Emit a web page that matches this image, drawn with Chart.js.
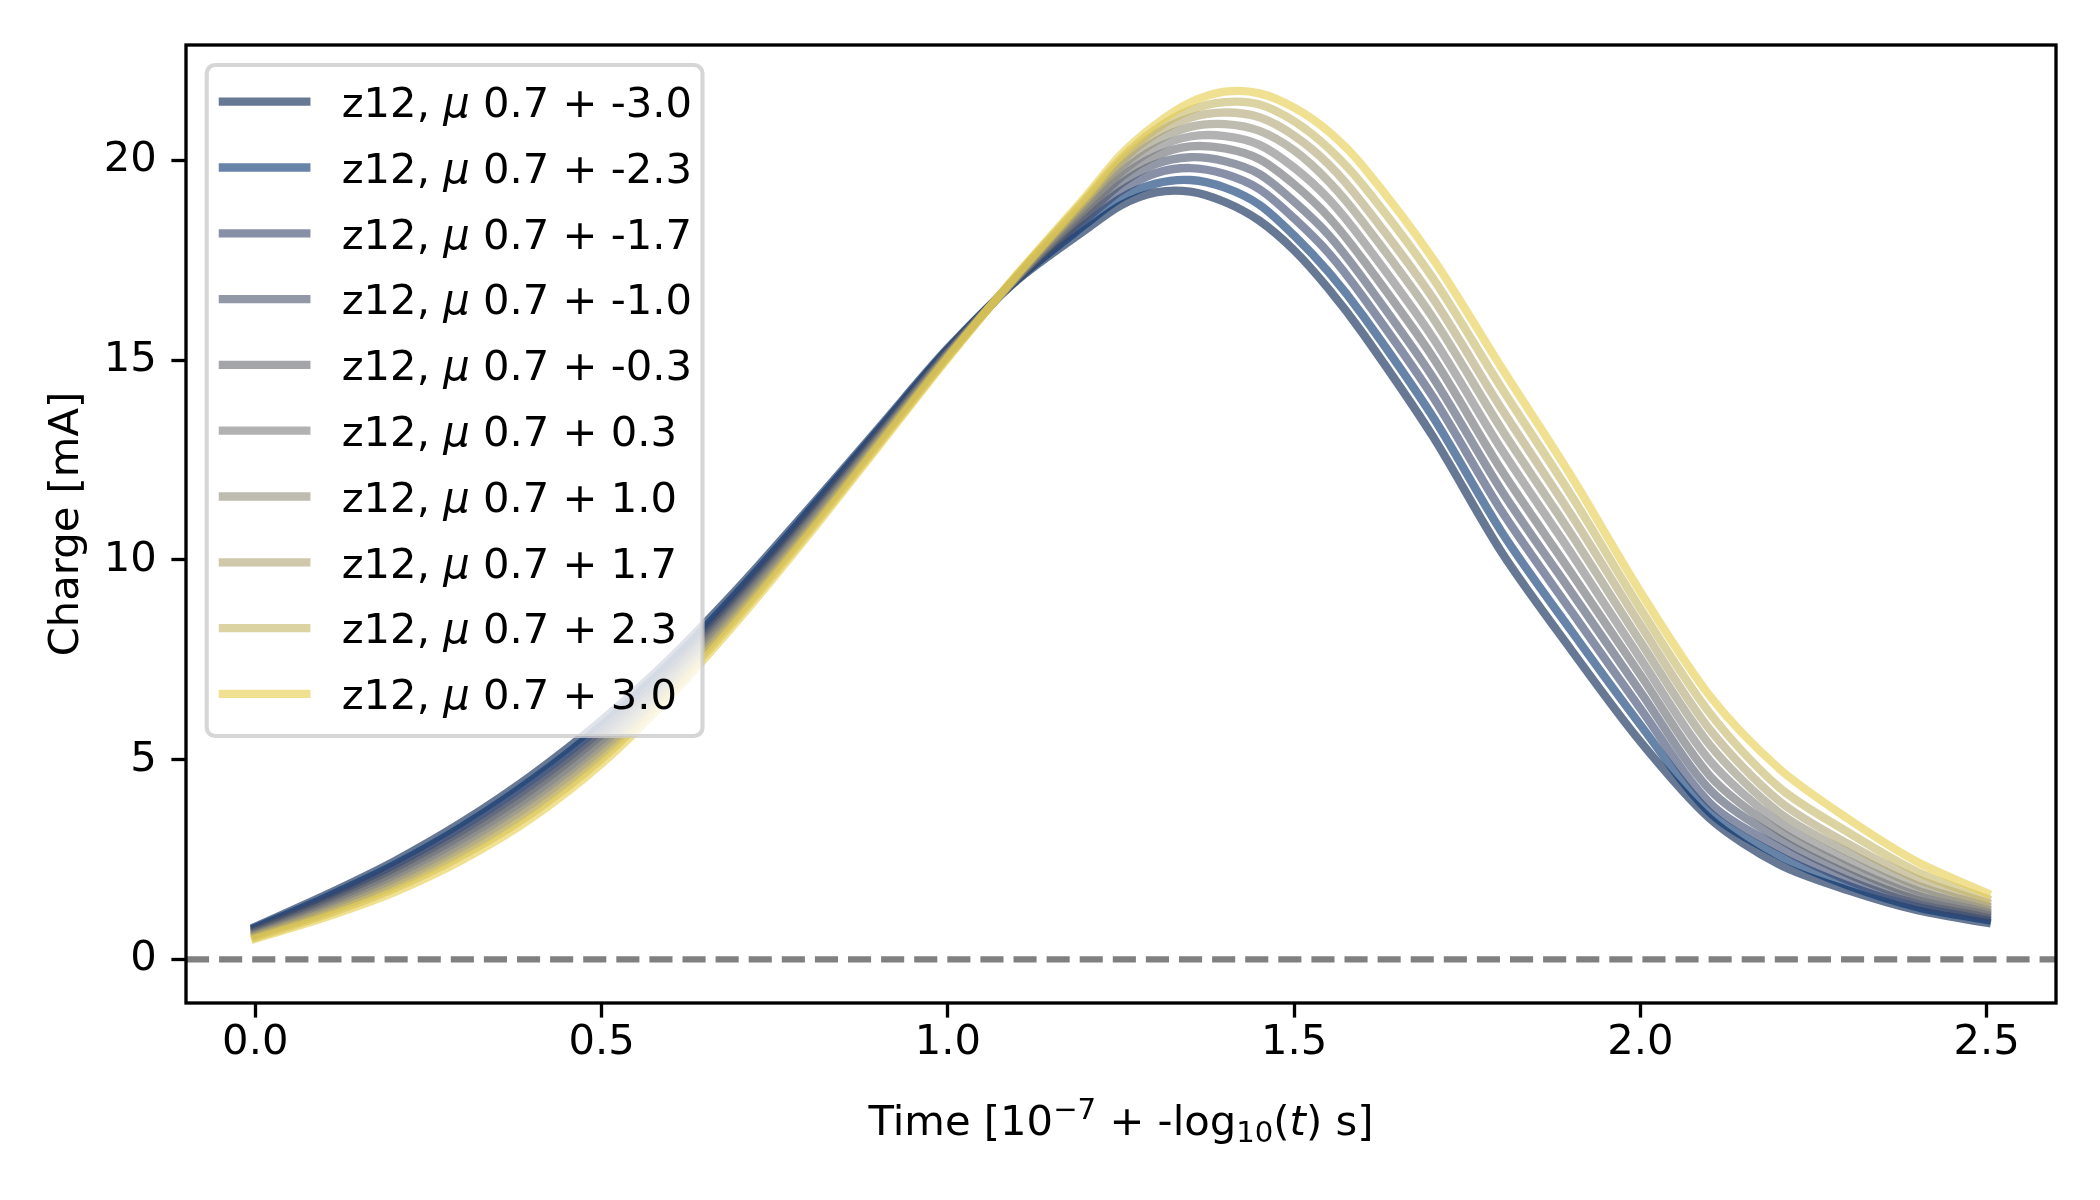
<!DOCTYPE html>
<html>
<head>
<meta charset="utf-8">
<script src="https://cdn.jsdelivr.net/npm/chart.js@4.4.0/dist/chart.umd.min.js"></script>
<style>
  html, body { margin: 0; padding: 0; background: #fff; }
  canvas { display: block; }
</style>
</head>
<body>
<canvas id="chargeChart" width="2100" height="1200" style="width:2100px;height:1200px"></canvas>
<script>
// time grid (x) shared by every curve
const timeX = [0, 0.1, 0.2, 0.3, 0.4, 0.5, 0.6, 0.7, 0.8, 0.9, 1.0, 1.1, 1.2, 1.25, 1.3, 1.35, 1.4, 1.45, 1.5, 1.55, 1.6, 1.7, 1.8, 1.9, 2.0, 2.1, 2.2, 2.3, 2.4, 2.5];

// charge per mu offset
const q_m30 = [0.82, 1.60, 2.45, 3.45, 4.62, 5.98, 7.55, 9.35, 11.30, 13.30, 15.30, 17.00, 18.28, 18.88, 19.20, 19.22, 18.96, 18.49, 17.75, 16.78, 15.65, 13.10, 10.18, 7.75, 5.45, 3.53, 2.38, 1.73, 1.23, 0.92];
const q_m23 = [0.79, 1.54, 2.36, 3.34, 4.50, 5.86, 7.44, 9.26, 11.23, 13.25, 15.27, 17.02, 18.42, 19.06, 19.42, 19.51, 19.32, 18.89, 18.12, 17.20, 16.10, 13.59, 10.69, 8.23, 5.87, 3.68, 2.60, 1.85, 1.31, 0.99];
const q_m17 = [0.75, 1.48, 2.28, 3.24, 4.38, 5.74, 7.34, 9.17, 11.16, 13.20, 15.24, 17.03, 18.54, 19.24, 19.68, 19.81, 19.66, 19.28, 18.55, 17.68, 16.57, 14.09, 11.21, 8.72, 6.28, 3.92, 2.81, 1.98, 1.39, 1.06];
const q_m10 = [0.72, 1.42, 2.19, 3.13, 4.26, 5.62, 7.23, 9.08, 11.08, 13.15, 15.22, 17.05, 18.63, 19.42, 19.91, 20.08, 19.98, 19.66, 18.97, 18.13, 17.03, 14.58, 11.72, 9.20, 6.70, 4.25, 3.02, 2.14, 1.49, 1.12];
const q_m03 = [0.69, 1.36, 2.11, 3.03, 4.14, 5.50, 7.13, 8.99, 11.01, 13.10, 15.19, 17.07, 18.74, 19.58, 20.11, 20.35, 20.30, 20.03, 19.40, 18.58, 17.50, 15.08, 12.23, 9.68, 7.12, 4.60, 3.22, 2.31, 1.60, 1.18];
const q_p03 = [0.65, 1.29, 2.02, 2.92, 4.03, 5.38, 7.02, 8.91, 10.94, 13.05, 15.16, 17.08, 18.81, 19.70, 20.30, 20.60, 20.61, 20.39, 19.82, 19.03, 17.97, 15.57, 12.75, 10.17, 7.53, 4.98, 3.43, 2.47, 1.72, 1.25];
const q_p10 = [0.62, 1.23, 1.94, 2.82, 3.91, 5.26, 6.92, 8.82, 10.87, 13.00, 15.13, 17.10, 18.91, 19.84, 20.48, 20.84, 20.91, 20.74, 20.25, 19.47, 18.44, 16.07, 13.26, 10.65, 7.95, 5.37, 3.68, 2.68, 1.85, 1.33];
const q_p17 = [0.59, 1.17, 1.85, 2.71, 3.79, 5.14, 6.81, 8.73, 10.79, 12.95, 15.11, 17.12, 19.00, 19.97, 20.66, 21.07, 21.20, 21.08, 20.62, 19.90, 18.90, 16.56, 13.77, 11.13, 8.37, 5.76, 3.97, 2.89, 2.01, 1.42];
const q_p23 = [0.55, 1.11, 1.77, 2.61, 3.67, 5.02, 6.71, 8.64, 10.72, 12.90, 15.08, 17.13, 19.06, 20.05, 20.78, 21.26, 21.46, 21.40, 20.98, 20.30, 19.37, 17.06, 14.29, 11.62, 8.78, 6.17, 4.31, 3.18, 2.19, 1.52];
const q_p30 = [0.52, 1.05, 1.68, 2.50, 3.55, 4.90, 6.60, 8.55, 10.65, 12.85, 15.05, 17.15, 19.12, 20.15, 20.90, 21.45, 21.72, 21.68, 21.32, 20.72, 19.84, 17.55, 14.80, 12.10, 9.20, 6.60, 4.78, 3.52, 2.44, 1.66];

const muOffsets = ['-3.0', '-2.3', '-1.7', '-1.0', '-0.3', '0.3', '1.0', '1.7', '2.3', '3.0'];
const lineColors = ['0,30,75', '2,48,110', '57,70,110', '73,83,105', '103,105,110', '127,127,127', '147,143,120', '175,163,113', '197,182,100', '230,205,73'];

const xTicks = [0, 0.5, 1.0, 1.5, 2.0, 2.5];
const yTicks = [0, 5, 10, 15, 20];

const series = [q_m30, q_m23, q_m17, q_m10, q_m03, q_p03, q_p10, q_p17, q_p23, q_p30];

const FONT = 'DejaVu Sans';
const FS = 41.7;
const LW = 8.33;

const datasets = series.map((vals, k) => ({
  label: 'z12, \u03bc 0.7 + ' + muOffsets[k],
  data: timeX.map((x, i) => ({ x: x, y: vals[i] })),
  borderColor: 'rgba(' + lineColors[k] + ',0.6)',
  borderWidth: LW,
  borderCapStyle: 'square',
  borderJoinStyle: 'round',
  tension: 0.3,
  pointRadius: 0,
  fill: false,
  order: 10 - k, // later offsets drawn on top, like the original
}));

// dashed zero reference line
datasets.push({
  label: 'zero',
  data: [{ x: -0.1, y: 0 }, { x: 2.6, y: 0 }],
  borderColor: '#808080',
  borderWidth: 6.25,
  borderDash: [23.1, 10],
  pointRadius: 0,
  fill: false,
  order: 0,
});

// axes box on top of the curves
const framePlugin = {
  id: 'frame',
  afterDatasetsDraw(chart) {
    const { ctx, chartArea: a } = chart;
    ctx.save();
    ctx.lineWidth = 3.33;
    ctx.strokeStyle = '#000';
    ctx.strokeRect(a.left, a.top, a.right - a.left, a.bottom - a.top);
    ctx.restore();
  },
};

function drawParts(ctx, parts, cx, baseline) {
  let total = 0;
  parts.forEach((p) => {
    ctx.font = (p.it ? 'italic ' : '') + (FS * (p.s || 1)) + 'px "' + FONT + '"';
    p.w = ctx.measureText(p.t).width;
    total += p.w;
  });
  let x = cx - total / 2;
  ctx.textAlign = 'left';
  ctx.textBaseline = 'alphabetic';
  parts.forEach((p) => {
    ctx.font = (p.it ? 'italic ' : '') + (FS * (p.s || 1)) + 'px "' + FONT + '"';
    ctx.fillText(p.t, x, baseline + (p.dy || 0));
    x += p.w;
  });
}

// axis titles and legend
const textPlugin = {
  id: 'texts',
  afterDraw(chart) {
    const { ctx, chartArea: a } = chart;
    ctx.save();
    ctx.fillStyle = '#000';

    // x title with super/subscripts
    drawParts(ctx, [
      { t: 'Time [10' },
      { t: '\u22127', s: 0.7, dy: -16 },
      { t: ' + -log' },
      { t: '10', s: 0.7, dy: 7 },
      { t: '(' },
      { t: 't', it: true },
      { t: ') s]' },
    ], (a.left + a.right) / 2, 1135);

    // y title
    ctx.save();
    ctx.translate(78, (a.top + a.bottom) / 2);
    ctx.rotate(-Math.PI / 2);
    ctx.font = FS + 'px "' + FONT + '"';
    ctx.textAlign = 'center';
    ctx.textBaseline = 'alphabetic';
    ctx.fillText('Charge [mA]', 0, 0);
    ctx.restore();

    // legend box
    const bx = 206.7, by = 65, bw = 702.5 - 206.7, bh = 736 - 65, r = 8.3;
    ctx.beginPath();
    ctx.moveTo(bx + r, by);
    ctx.lineTo(bx + bw - r, by);
    ctx.arcTo(bx + bw, by, bx + bw, by + r, r);
    ctx.lineTo(bx + bw, by + bh - r);
    ctx.arcTo(bx + bw, by + bh, bx + bw - r, by + bh, r);
    ctx.lineTo(bx + r, by + bh);
    ctx.arcTo(bx, by + bh, bx, by + bh - r, r);
    ctx.lineTo(bx, by + r);
    ctx.arcTo(bx, by, bx + r, by, r);
    ctx.closePath();
    ctx.fillStyle = 'rgba(255,255,255,0.8)';
    ctx.fill();
    ctx.lineWidth = 4.17;
    ctx.strokeStyle = 'rgba(204,204,204,0.8)';
    ctx.stroke();

    const rowGap = 65.8;
    chart.data.datasets.slice(0, series.length).forEach((ds, k) => {
      const ry = 101.7 + k * rowGap;
      ctx.beginPath();
      ctx.moveTo(222.9, ry);
      ctx.lineTo(306.3, ry);
      ctx.lineWidth = LW;
      ctx.lineCap = 'square';
      ctx.strokeStyle = ds.borderColor;
      ctx.stroke();

      const bits = ds.label.split('\u03bc');
      let x = 341.7;
      const base = ry + 15.2;
      ctx.fillStyle = '#000';
      ctx.textAlign = 'left';
      ctx.textBaseline = 'alphabetic';
      ctx.font = FS + 'px "' + FONT + '"';
      ctx.fillText(bits[0], x, base);
      x += ctx.measureText(bits[0]).width;
      ctx.font = 'italic ' + FS + 'px "' + FONT + '"';
      ctx.fillText('\u03bc', x, base);
      x += ctx.measureText('\u03bc').width;
      ctx.font = FS + 'px "' + FONT + '"';
      ctx.fillText(bits[1], x, base);
    });
    ctx.restore();
  },
};

const tickFont = { family: FONT, size: FS };

new Chart(document.getElementById('chargeChart').getContext('2d'), {
  type: 'line',
  data: { datasets: datasets },
  plugins: [framePlugin, textPlugin],
  options: {
    responsive: false,
    devicePixelRatio: 1,
    animation: false,
    events: [],
    layout: { padding: { left: 0, top: 45, right: 44, bottom: 0 } },
    plugins: {
      legend: { display: false },
      tooltip: { enabled: false },
    },
    scales: {
      x: {
        type: 'linear',
        min: -0.1,
        max: 2.6,
        afterBuildTicks: (scale) => { scale.ticks = xTicks.map((v) => ({ value: v })); },
        afterFit: (scale) => { scale.height = 197; },
        border: { display: false },
        grid: { display: true, drawOnChartArea: false, drawTicks: true, tickLength: 14.6, tickWidth: 3.33, tickColor: '#000' },
        ticks: {
          font: tickFont,
          color: '#000',
          padding: 1,
          maxRotation: 0,
          autoSkip: false,
          callback: (v) => Number(v).toFixed(1),
        },
      },
      y: {
        type: 'linear',
        min: -1.09,
        max: 22.89,
        afterBuildTicks: (scale) => { scale.ticks = yTicks.map((v) => ({ value: v })); },
        afterFit: (scale) => { scale.width = 186; },
        border: { display: false },
        grid: { display: true, drawOnChartArea: false, drawTicks: true, tickLength: 14.6, tickWidth: 3.33, tickColor: '#000' },
        ticks: {
          font: tickFont,
          color: '#000',
          padding: 14.6,
          autoSkip: false,
          callback: (v) => String(v),
        },
      },
    },
  },
});
</script>
</body>
</html>
